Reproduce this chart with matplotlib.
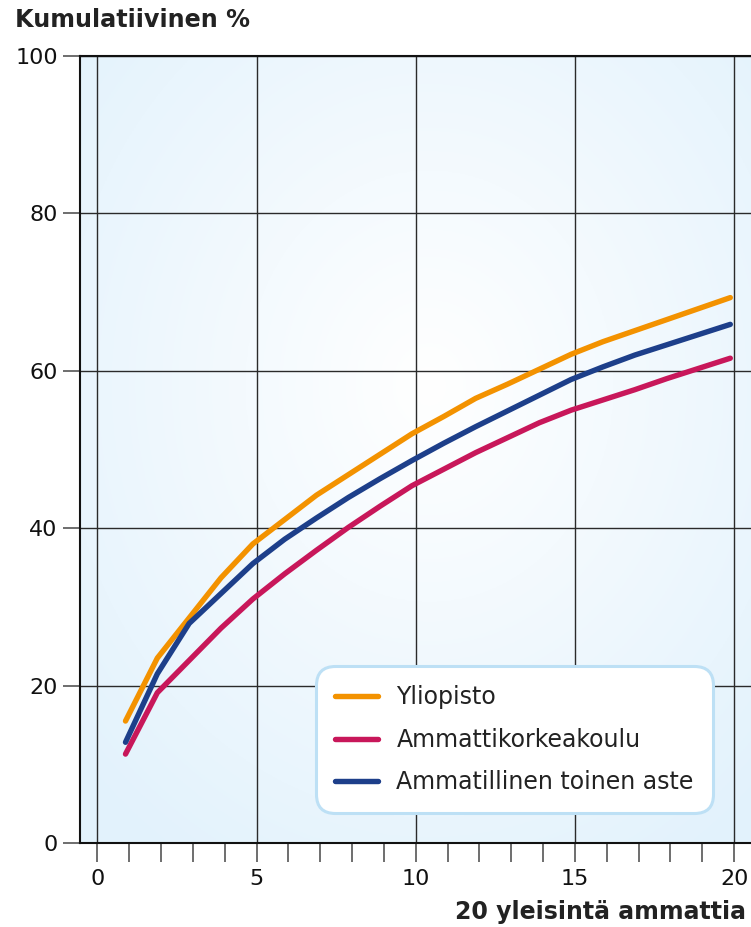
import numpy as np
import matplotlib
matplotlib.use("Agg")
import matplotlib.pyplot as plt

# --- DADOS ---
ammatit = np.arange(1, 21)
yliopisto = [15.5, 23.5, 28.6, 33.7, 38.0, 41.1, 44.2, 46.8, 49.4, 52.0,
             54.2, 56.5, 58.3, 60.2, 62.1, 63.7, 65.1, 66.5, 67.9, 69.3]
amk = [11.3, 19.1, 23.2, 27.3, 31.0, 34.2, 37.2, 40.1, 42.8, 45.4,
       47.5, 49.6, 51.5, 53.4, 55.0, 56.3, 57.6, 59.0, 60.3, 61.6]
toinen_aste = [12.8, 21.5, 27.9, 31.7, 35.5, 38.6, 41.3, 43.9, 46.3, 48.6,
               50.8, 52.9, 54.9, 56.9, 58.9, 60.5, 62.0, 63.3, 64.6, 65.9]
sarjat = ["Yliopisto", "Ammattikorkeakoulu", "Ammatillinen toinen aste"]
varit = ["#f39200", "#c8175a", "#1d3f8a"]

x_ticks = [0, 5, 10, 15, 20]
y_ticks = [0, 20, 40, 60, 80, 100]

plt.rcParams['font.family'] = ['DejaVu Sans']

fig = plt.figure(figsize=(7.51, 9.27), dpi=100)
ax = fig.add_axes([0.1065, 0.0906, 0.8935, 0.849])

# fundo com gradiente radial (branco no centro, azul claro nas bordas)
gx, gy = np.meshgrid(np.linspace(0, 1, 300), np.linspace(0, 1, 300))
r = np.sqrt(((gx - 0.52) / 0.7) ** 2 + ((gy - 0.58) / 0.7) ** 2)
r = np.clip(r, 0, 1)
c_edge = np.array([0.89, 0.95, 0.99])
c_mid = np.array([1.0, 1.0, 1.0])
img = c_mid[None, None, :] * (1 - r[..., None]) + c_edge[None, None, :] * r[..., None]
ax.imshow(img, extent=[0, 1, 0, 1], transform=ax.transAxes, aspect='auto',
          zorder=0, origin='lower')

xs = ammatit - 0.12
for vals, nimi, col in zip([yliopisto, amk, toinen_aste], sarjat, varit):
    ax.plot(xs, vals, color=col, lw=3.9, solid_capstyle='round',
            solid_joinstyle='round', label=nimi, zorder=3)

ax.set_xlim(-0.55, 20.53)
ax.set_ylim(0, 100)
ax.set_xticks(x_ticks)
ax.set_xticks(np.arange(0, 21), minor=True)
ax.set_yticks(y_ticks)
ax.grid(True, which='major', color='#2a2a2a', lw=1.0, zorder=1)
ax.set_axisbelow(True)

for side in ['left', 'bottom', 'top']:
    ax.spines[side].set_color('#111111')
    ax.spines[side].set_linewidth(1.5)
ax.spines['right'].set_visible(False)

ax.tick_params(axis='x', which='both', direction='out', length=14, width=1.2,
               color='#555555', labelsize=16, pad=5, labelcolor='#111111')
ax.tick_params(axis='y', which='major', direction='out', length=12, width=1.2,
               color='#555555', labelsize=16, pad=4, labelcolor='#111111')

fig.text(0.02, 0.978, "Kumulatiivinen %", fontsize=17.2, fontweight='bold',
         color='#222222', ha='left', va='center')
fig.text(0.993, 0.016, "20 yleisintä ammattia", fontsize=17, fontweight='bold',
         color='#222222', ha='right', va='center')

leg = ax.legend(loc='lower right', bbox_to_anchor=(0.943, 0.038), fontsize=17,
                frameon=True, fancybox=True, handlelength=1.8, handletextpad=0.8,
                labelspacing=0.78, borderpad=0.8, borderaxespad=0)
frame = leg.get_frame()
frame.set_facecolor('white')
frame.set_edgecolor('#bde0f5')
frame.set_linewidth(2.2)
frame.set_alpha(1)
frame.set_boxstyle('round,pad=0.0,rounding_size=0.8')
for t in leg.get_texts():
    t.set_color('#222222')

fig.savefig("out.png", dpi=100)
